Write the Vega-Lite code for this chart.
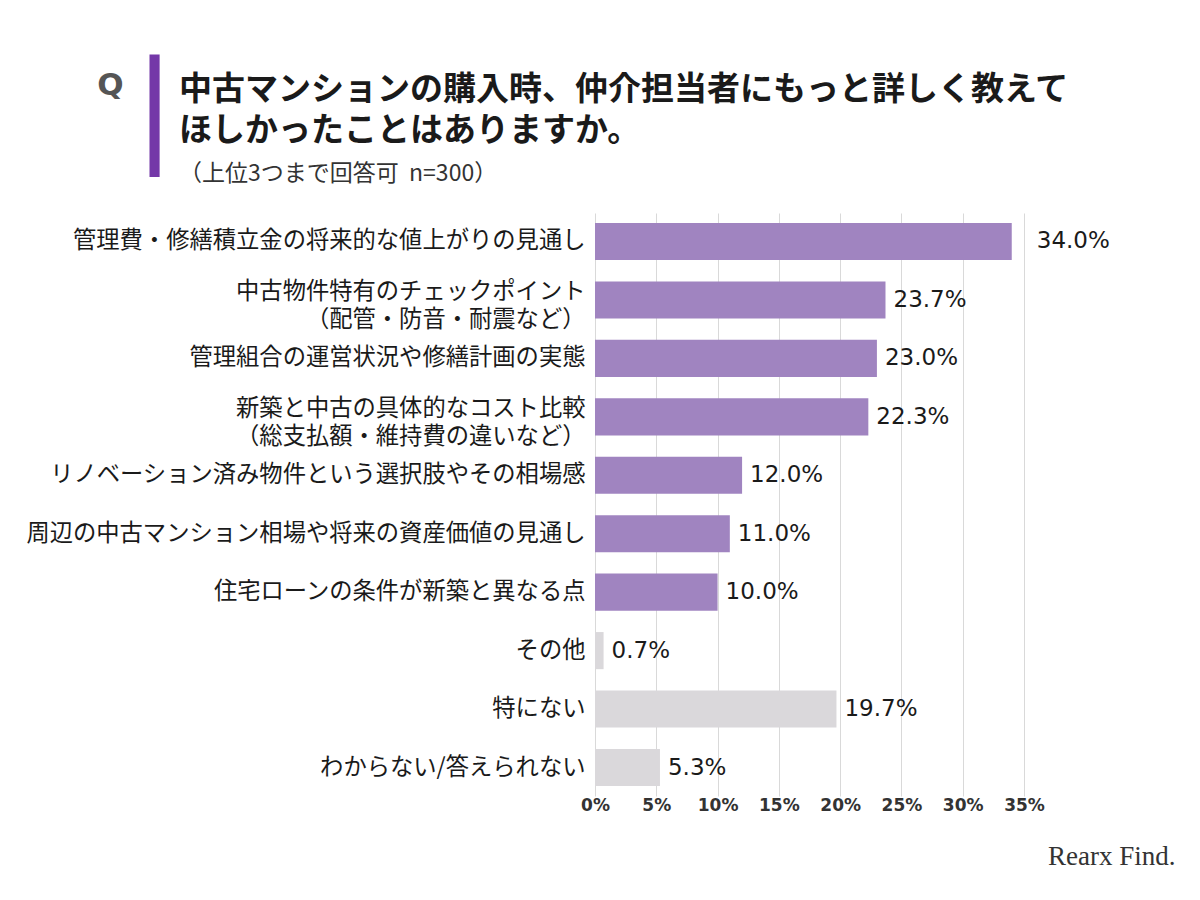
{
  "$schema": "https://vega.github.io/schema/vega-lite/v6.json",
  "width": 429,
  "height": 583,
  "autosize": {"type": "none"},
  "padding": {"left": 595, "top": 213, "right": 176, "bottom": 104},
  "background": "white",
  "config": {"view": {"stroke": null}, "font": "Noto Sans CJK JP"},
  "title": {
    "text": ["中古マンションの購入時、仲介担当者にもっと詳しく教えて", "ほしかったことはありますか。"],
    "subtitle": "（上位3つまで回答可\u00a0\u00a0n=300）",
    "anchor": "start",
    "frame": "group",
    "dx": -416,
    "dy": 146,
    "offset": 28,
    "font": "Noto Sans CJK JP",
    "fontSize": 33,
    "fontWeight": "bold",
    "color": "#1a1a1a",
    "lineHeight": 41,
    "subtitleFont": "Noto Sans CJK JP",
    "subtitleFontSize": 23,
    "subtitleColor": "#333333",
    "subtitlePadding": 15
  },
  "data": {
    "values": [
      {"item": "管理費・修繕積立金の将来的な値上がりの見通し", "pct": 34.0, "grp": "選択肢"},
      {"item": "中古物件特有のチェックポイント\n（配管・防音・耐震など）", "pct": 23.7, "grp": "選択肢"},
      {"item": "管理組合の運営状況や修繕計画の実態", "pct": 23.0, "grp": "選択肢"},
      {"item": "新築と中古の具体的なコスト比較\n（総支払額・維持費の違いなど）", "pct": 22.3, "grp": "選択肢"},
      {"item": "リノベーション済み物件という選択肢やその相場感", "pct": 12.0, "grp": "選択肢"},
      {"item": "周辺の中古マンション相場や将来の資産価値の見通し", "pct": 11.0, "grp": "選択肢"},
      {"item": "住宅ローンの条件が新築と異なる点", "pct": 10.0, "grp": "選択肢"},
      {"item": "その他", "pct": 0.7, "grp": "その他"},
      {"item": "特にない", "pct": 19.7, "grp": "その他"},
      {"item": "わからない/答えられない", "pct": 5.3, "grp": "その他"}
    ]
  },
  "encoding": {
    "y": {
      "field": "item",
      "type": "nominal",
      "sort": null,
      "title": "Q",
      "scale": {"paddingInner": 0.365, "paddingOuter": 0.17},
      "axis": {
        "labelExpr": "split(datum.value, '\\n')",
        "labelFont": "Noto Sans CJK JP",
        "labelFontSize": 23.3,
        "labelColor": "#1a1a1a",
        "labelPadding": 10,
        "labelLineHeight": 28,
        "labelLimit": 700,
        "labelOffset": {"condition": {"test": "indexof(datum.value, '\\n') >= 0", "value": -8}, "value": 0},
        "ticks": false,
        "domain": false,
        "titleAngle": 0,
        "titleX": -485,
        "titleY": -128,
        "titleFont": "DejaVu Sans",
        "titleFontSize": 31,
        "titleFontWeight": "bold",
        "titleColor": "#555555",
        "titleAlign": "center",
        "titleBaseline": "middle"
      }
    },
    "x": {
      "field": "pct",
      "type": "quantitative",
      "scale": {"domain": [0, 35], "nice": false},
      "axis": {
        "values": [0, 5, 10, 15, 20, 25, 30, 35],
        "labelExpr": "datum.value + '%'",
        "labelFlush": false,
        "grid": true,
        "gridColor": "#D9D9D9",
        "ticks": false,
        "domain": false,
        "labelFont": "DejaVu Sans",
        "labelFontWeight": "bold",
        "labelFontSize": 17,
        "labelColor": "#333333",
        "labelPadding": 1,
        "title": "▏",
        "titleX": -445,
        "titleY": -677,
        "titleFont": "DejaVu Sans",
        "titleFontSize": 103,
        "titleFontWeight": "normal",
        "titleColor": "#7438A8",
        "titleAlign": "left",
        "titleBaseline": "middle"
      }
    }
  },
  "layer": [
    {
      "mark": {"type": "bar"},
      "encoding": {
        "color": {
          "field": "grp",
          "type": "nominal",
          "scale": {"domain": ["選択肢", "その他"], "range": ["#A084C0", "#DAD8DB"]},
          "legend": {
            "orient": "none",
            "legendX": 453,
            "legendY": 631,
            "title": "Rearx Find.",
            "titleFont": "Liberation Serif",
            "titleFontSize": 27,
            "titleFontWeight": "normal",
            "titleColor": "#333333",
            "symbolOpacity": 0,
            "labelOpacity": 0
          }
        }
      }
    },
    {
      "mark": {
        "type": "text",
        "align": "left",
        "baseline": "middle",
        "dx": {"expr": "datum.pct > 30 ? 25 : 8"},
        "font": "DejaVu Sans",
        "fontSize": 23,
        "color": "#1a1a1a",
        "text": {"expr": "format(datum.pct, '.1f') + '%'"}
      },
      "encoding": {}
    }
  ]
}
